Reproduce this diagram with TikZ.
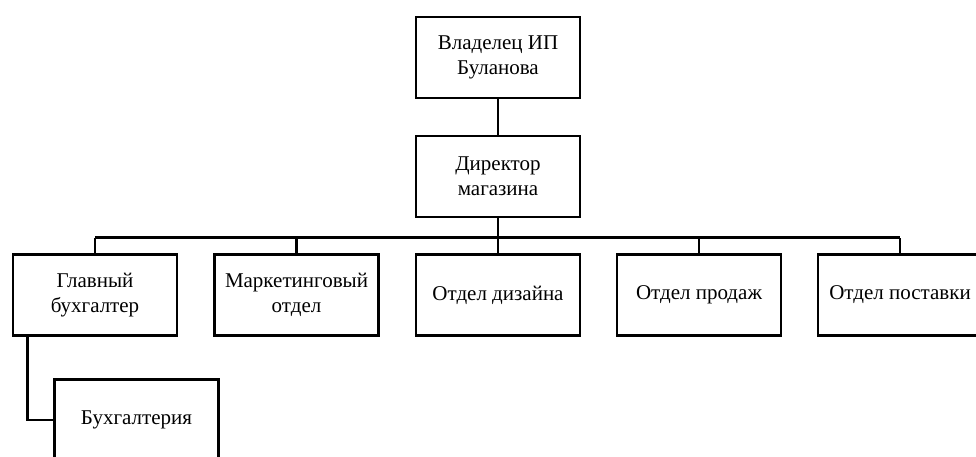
\documentclass[tikz,border=0pt]{standalone}
\usepackage{fontspec}
\setmainfont{Liberation Serif}
\begin{document}
\begin{tikzpicture}[x=1pt,y=-1pt,
  box/.style={draw, line width=2.8pt, minimum width=164pt, minimum height=81pt, inner sep=0pt, align=center, font=\fontsize{21}{25}\selectfont},
  conn/.style={line width=2.8pt}]
\useasboundingbox (0,0) rectangle (976,456);
\clip (0,0) rectangle (976,456);
\fill[white] (0,0) rectangle (976,456);
\node[box] (own) at (498,57.5) {Владелец ИП\\Буланова};
\node[box] (dir) at (498,176.5) {Директор\\магазина};
\node[box] (glav) at (95,295) {Главный\\бухгалтер};
\node[box] (mark) at (296.5,295) {Маркетинговый\\отдел};
\node[box] (diz) at (498,295) {Отдел дизайна};
\node[box] (prod) at (699,295) {Отдел продаж};
\node[box] (post) at (900,295) {Отдел поставки};
\node[box] (buh) at (136.5,420) {Бухгалтерия};
\coordinate (busL) at (95,237.5);
\coordinate (busR) at (900,237.5);
\draw[conn] (own.south) -- (dir.north);
\draw[conn] (busL) -- (busR);
\draw[conn] (dir.south) -- (dir.south |- busL);
\foreach \n in {glav,mark,diz,prod,post}
  \draw[conn] (\n.north) -- (\n.north |- busL);
\draw[conn] ([xshift=16pt]glav.south west) |- (buh.west);
\end{tikzpicture}
\end{document}
